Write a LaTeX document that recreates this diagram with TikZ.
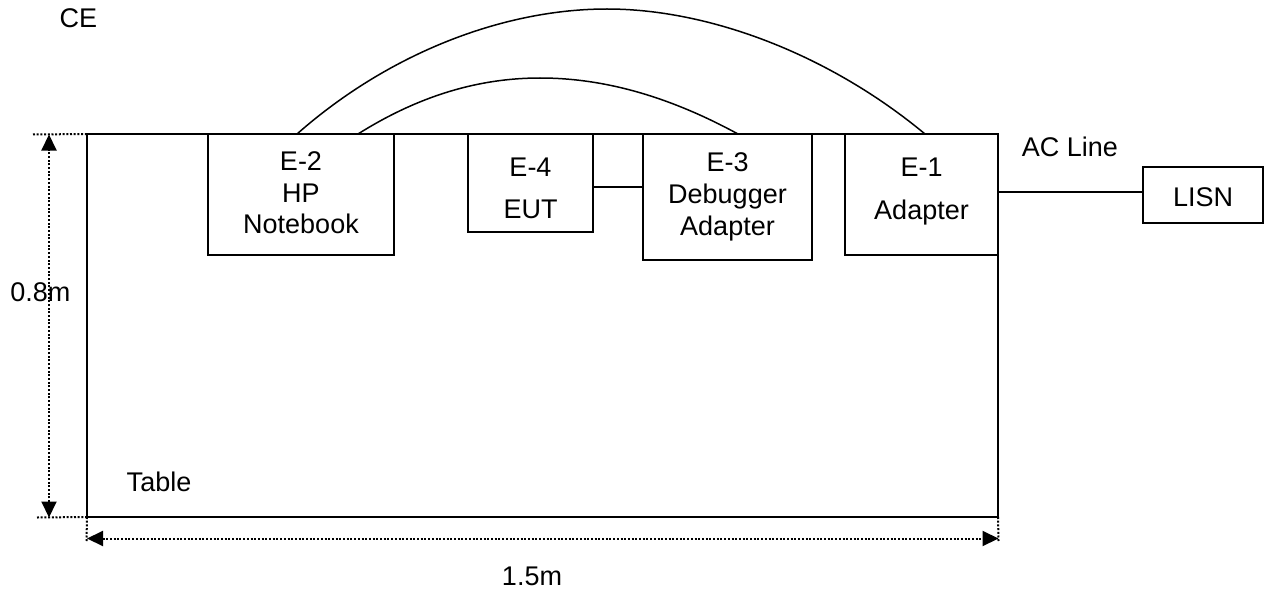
\documentclass[tikz,border=0pt]{standalone}
\usepackage{fontspec}
\setmainfont{Liberation Sans}
\usetikzlibrary{arrows.meta}
\begin{document}
\begin{tikzpicture}[x=1pt,y=-1pt,
  every node/.style={inner sep=0pt,outer sep=0pt,font=\fontsize{27}{31.7}\selectfont},
  box/.style={draw,line width=1.5pt,align=center},
  wire/.style={line width=1.5pt},
  dim/.style={line width=2pt,dash pattern=on 2pt off 1.7pt},
  dimarrow/.style={dim,{Triangle[length=16pt,width=15pt]}-{Triangle[length=16pt,width=15pt]}},
  lbl/.style={anchor=base}]
\useasboundingbox (0,0) rectangle (1271,591);
\node[box,minimum width=911,minimum height=383] (table) at (542.5,325.5) {};
\node[box,minimum width=186,minimum height=121] (e2) at (301,194.5) {E-2\\HP\\Notebook\rule[-3.4pt]{0pt}{0pt}};
\node[box,minimum width=125,minimum height=98] (e4) at (530.5,183) {E-4\rule{0pt}{29pt}\\[10pt]EUT};
\node[box,minimum width=169,minimum height=126] (e3) at (727.5,197) {E-3\\Debugger\\Adapter};
\node[box,minimum width=153,minimum height=121] (e1) at (921.5,194.5) {E-1\\[11.6pt]Adapter\rule[-11.5pt]{0pt}{0pt}};
\node[box,minimum width=120,minimum height=56.3] (lisn) at (1203,194.9) {\rule{0pt}{24.3pt}LISN};
\node[lbl] (ce) at (78.5,28) {CE};
\node[lbl] (acline) at (1070,156.7) {AC Line};
\node[lbl] (tbl) at (159,491.7) {Table};
\node[lbl] (h) at (40.3,301.7) {0.8m};
\node[lbl] (w) at (532,585) {1.5m};
% connectors
\draw[wire] (e4.east |- 0,187) -- (e3.west |- 0,187);
\draw[wire] (table.east |- 0,192) -- (lisn.west |- 0,192);
\coordinate (o1) at (297,134);
\coordinate (o2) at (925,134);
\coordinate (i1) at (358,134);
\coordinate (i2) at (738,134);
\draw[wire] (o1) .. controls (390,52) and (505,9) .. (607,9) .. controls (710,9) and (830,55) .. (o2);
\draw[wire] (i1) .. controls (420,95) and (480,78) .. (540,78) .. controls (605,78) and (670,97) .. (i2);
% dimensions
\coordinate (t1) at (33,134.5);
\coordinate (b1) at (37,517.5);
\coordinate (vl) at (86.5,541);
\coordinate (vr) at (998.5,541);
\draw[dim] (t1) -- (table.north west);
\draw[dim] (b1) -- (table.south west);
\draw[dim] (table.south west) -- (vl);
\draw[dim] (table.south east) -- (vr);
\draw[dimarrow] (49,517.5) -- (49,134.5);
\draw[dimarrow] (87,538.5) -- (998.5,538.5);
\end{tikzpicture}
\end{document}
